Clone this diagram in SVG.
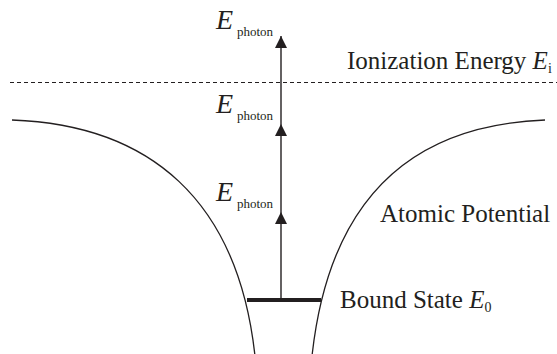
<svg xmlns="http://www.w3.org/2000/svg" width="557" height="354" viewBox="0 0 557 354">
<style>
.t{font-family:"Liberation Serif","Times New Roman",serif;font-size:25px;fill:#231f20}
.e{font-family:"Liberation Serif","Times New Roman",serif;font-style:italic;fill:#231f20}
.s{font-family:"Liberation Serif","Times New Roman",serif;fill:#231f20}
.curve{fill:none;stroke:#231f20;stroke-width:1.3}
</style>
<defs>
<marker id="ah" viewBox="0 0 12 12" markerWidth="12" markerHeight="12" refX="12" refY="6" orient="auto" markerUnits="userSpaceOnUse">
<path d="M0,0 L12,6 L0,12 Z" fill="#231f20"/>
</marker>
</defs>
<rect width="557" height="354" fill="#fff"/>
<g id="potential">
<path class="curve" d="M12,120 C150,125 238,200 255,356"/>
<path class="curve" d="M545,120 C410,125 329,200 312,356"/>
</g>
<g id="ionization">
<line x1="10" y1="82.5" x2="557" y2="82.5" stroke="#231f20" stroke-width="1.2" stroke-dasharray="4 3"/>
<text class="t" x="347" y="69">Ionization Energy <tspan class="e">E</tspan><tspan class="s" font-size="14" dy="4">i</tspan></text>
</g>
<g id="bound-state">
<line x1="247" y1="300" x2="321" y2="300" stroke="#231f20" stroke-width="4"/>
<text class="t" x="340" y="308">Bound State <tspan class="e">E</tspan><tspan class="s" font-size="14" dy="4">0</tspan></text>
</g>
<g id="atomic-potential-label">
<text class="t" x="380" y="222">Atomic Potential</text>
</g>
<g id="connectors">
<path d="M281,300 L281,212 L281,124 L281,36" fill="none" stroke="#231f20" stroke-width="1.4" marker-mid="url(#ah)" marker-end="url(#ah)"/>
</g>
<g id="photon-labels">
<text x="216" y="29"><tspan class="e" font-size="28">E</tspan><tspan class="s" font-size="13" x="237" y="36">photon</tspan></text>
<text x="216" y="113"><tspan class="e" font-size="28">E</tspan><tspan class="s" font-size="13" x="237" y="120">photon</tspan></text>
<text x="216" y="201"><tspan class="e" font-size="28">E</tspan><tspan class="s" font-size="13" x="237" y="208">photon</tspan></text>
</g>
</svg>
